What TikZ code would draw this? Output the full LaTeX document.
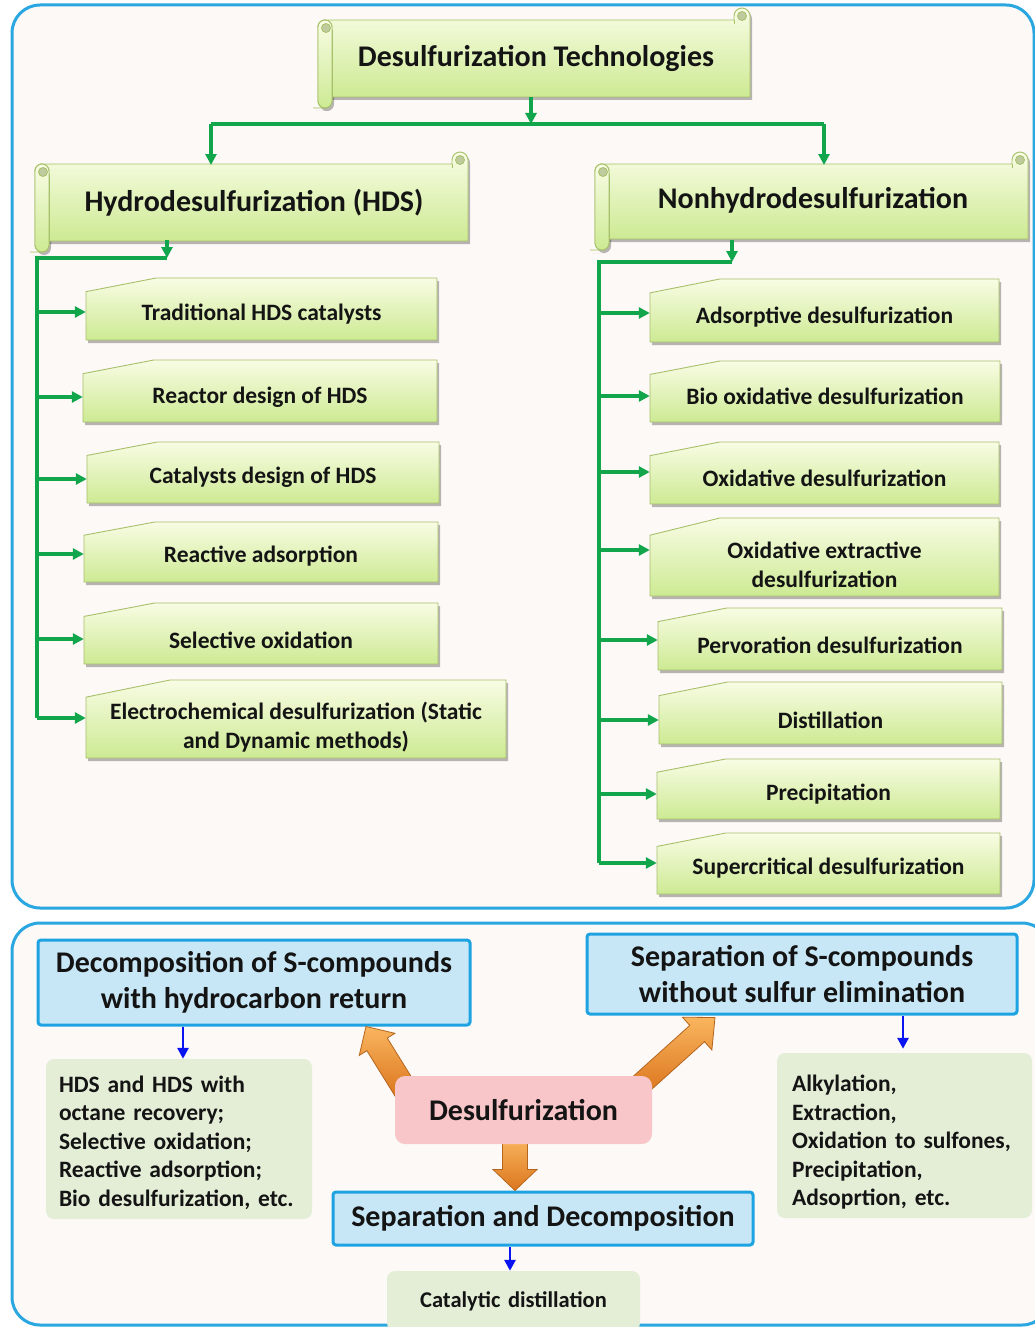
\documentclass[tikz,border=0pt]{standalone}
\usepackage{fontspec}
\setmainfont{Carlito}
\usetikzlibrary{arrows.meta,shadows,calc}

\definecolor{panelblue}{HTML}{2AA7E0}
\definecolor{panelfill}{HTML}{FDF9F7}
\definecolor{linkgreen}{HTML}{12A64C}
\definecolor{scrolltop}{HTML}{F8FCE4}
\definecolor{scrollbot}{HTML}{CDEA93}
\definecolor{scrolledge}{HTML}{A7C06A}
\definecolor{curlfill}{HTML}{BFCB9E}
\definecolor{boxblue}{HTML}{C8E7F6}
\definecolor{boxedge}{HTML}{1EA3E2}
\definecolor{sage}{HTML}{E4EED7}
\definecolor{pinkbox}{HTML}{F8C6C8}
\definecolor{orangetop}{HTML}{F9B55E}
\definecolor{orangebot}{HTML}{DB761E}
\definecolor{orangeedge}{HTML}{B5661E}
\definecolor{textblack}{HTML}{141414}
\definecolor{arrowblue}{HTML}{0A14F0}

\tikzset{
  panel/.style={draw=panelblue, line width=3pt, fill=panelfill, rounded corners=28pt},
  softshadow/.style={drop shadow={shadow xshift=2pt, shadow yshift=-3pt, opacity=0.28, fill=black}},
  scrollpaint/.style={draw=scrolledge, line width=0.9pt, top color=scrolltop, bottom color=scrollbot},
  curlend/.style={draw=scrolledge, line width=0.8pt, fill=curlfill},
  itempaint/.style={draw=scrolledge, line width=0.9pt, top color=scrolltop, bottom color=scrollbot},
  headtext/.style={font=\fontsize{30}{36}\selectfont\bfseries, text=textblack, inner sep=0pt},
  itemtext/.style={font=\fontsize{23.5}{29}\selectfont\bfseries, text=textblack, align=center, inner sep=0pt},
  greenline/.style={draw=linkgreen, line width=3.6pt},
  greenarrow/.style={greenline, -{Triangle[length=11pt,width=11pt]}},
  bluearrow/.style={draw=arrowblue, line width=2.8pt, -{Triangle[length=11pt,width=11pt]}},
  bluebox/.style={draw=boxedge, line width=3pt, fill=boxblue, rounded corners=3pt, align=center,
    font=\fontsize{30}{36}\selectfont\bfseries, text=textblack, inner sep=0pt},
  listbox/.style={fill=sage, rounded corners=8pt, align=left, inner ysep=0pt,
    font=\fontsize{23.5}{28.5}\selectfont\bfseries, text=textblack},
  orangeblock/.style={draw=orangeedge, line width=0.8pt, top color=orangetop, bottom color=orangebot},
}

% horizontal scroll: name, x1, y1, x2, y2, text x, text y, text
\newcommand\scrollbox[8]{%
  \path[scrollpaint, softshadow] (#2+2,#5) [rounded corners=7pt] -- (#2,#5) -- (#2,#3+12) -- (#2+14,#3+12) -- (#2+14,#5) -- cycle;
  \path[scrollpaint, softshadow] (#2+10,#3+12) -- (#4-16,#3+12) -- (#4-16,#3+8)
     arc[start angle=180, end angle=0, radius=8pt] -- (#4,#5-11) -- (#2+10,#5-11) -- cycle;
  \path[curlend] (#4-8,#3+8) circle[radius=4.5pt];
  \draw[scrolledge, line width=0.8pt] (#4-16,#3+12) -- (#4-16,#3+16);
  \path[scrollpaint] (#2,#3+20) [rounded corners=7pt] -- (#2,#3+12) -- (#2+14,#3+12) -- (#2+14,#5-8);
  \path[scrollpaint, rounded corners=7pt] (#2,#3+12) rectangle (#2+14,#5);
  \path[curlend] (#2+8,#3+20) circle[radius=4.5pt];
  \draw[scrolledge, line width=0.8pt] (#2+14,#3+22) -- (#2+14,#5-11);
  \node[headtext] (#1) at (#6,#7) {#8};
}

% box with a snipped top-left corner: name, x1, y1, x2, y2, text y, text
\newcommand\snipbox[7]{%
  \path[itempaint, softshadow] (#2,{#3+0.22*(#5-#3)}) -- ({#2+0.2*(#4-#2)},#3) -- (#4,#3) -- (#4,#5) -- (#2,#5) -- cycle;
  \node[itemtext, minimum width={#4-#2}] (#1) at ({(#2+#4)/2},#6) {#7};
}

% block arrow from tail to tip: tail, tip, shaft half width, head half width, head length
\newcommand\blockarrow[5]{%
  \path[orangeblock] ($(#1)!#3!90:(#2)$) -- ($($(#2)!#5!(#1)$)!#3!90:(#2)$)
    -- ($($(#2)!#5!(#1)$)!#4!90:(#2)$) -- (#2)
    -- ($($(#2)!#5!(#1)$)!#4!-90:(#2)$) -- ($($(#2)!#5!(#1)$)!#3!-90:(#2)$)
    -- ($(#1)!#3!-90:(#2)$) -- cycle;
}

\begin{document}
\begin{tikzpicture}[x=1pt, y=-1pt]
\useasboundingbox (0,0) rectangle (1035,1327);
\clip (0,0) rectangle (1035,1327);
\fill[white] (0,0) rectangle (1035,1327);

% the two panels
\path[panel] (12,5) rectangle (1034,908);
\path[panel] (12,923) rectangle (1050,1325);

% ---------- upper panel: technology tree ----------
\scrollbox{title}{318}{8}{750}{108}{536}{58}{Desulfurization Technologies}
\scrollbox{hds}{35}{152}{468}{252}{254}{203}{Hydrodesulfurization (HDS)}
\scrollbox{nonhds}{595}{152}{1028}{250}{813}{200}{Nonhydrodesulfurization}

\coordinate (busMid) at (531,124);
\coordinate (busL) at (211,124);
\coordinate (busR) at (824,124);
\draw[greenline] (busL) -- (busR);
\draw[greenarrow] (busMid |- 0,97) -- (busMid);
\draw[greenarrow] (busL) -- (busL |- 0,165);
\draw[greenarrow] (busR) -- (busR |- 0,165);

% HDS branch
\snipbox{h1}{86}{278}{437}{340}{314}{Traditional HDS catalysts}
\snipbox{h2}{83}{360}{437}{422}{397}{Reactor design of HDS}
\snipbox{h3}{87}{442}{439}{503}{477}{Catalysts design of HDS}
\snipbox{h4}{84}{522}{438}{582}{556}{Reactive adsorption}
\snipbox{h5}{84}{603}{438}{664}{640}{Selective oxidation}
\snipbox{h6}{86}{680}{506}{758}{727}{Electrochemical desulfurization (Static\\and Dynamic methods)}

\coordinate (hdsBus) at (167,258);
\coordinate (hdsTop) at (37,258);
\coordinate (hdsEnd) at (37,718);
\draw[greenarrow] (hdsBus |- 0,240) -- (hdsBus);
\draw[greenline] (hdsBus) -- (hdsTop) -- (hdsEnd);
\draw[greenarrow] (hdsTop |- 0,312) -- (h1.west |- 0,312);
\draw[greenarrow] (hdsTop |- h2.west) -- (h2.west);
\draw[greenarrow] (hdsTop |- 0,479) -- (h3.west |- 0,479);
\draw[greenarrow] (hdsTop |- 0,554) -- (h4.west |- 0,554);
\draw[greenarrow] (hdsTop |- 0,639) -- (h5.west |- 0,639);
\draw[greenarrow] (hdsEnd) -- (h6.west |- hdsEnd);

% non-HDS branch
\snipbox{n1}{650}{279}{999}{342}{317}{Adsorptive desulfurization}
\snipbox{n2}{650}{361}{1000}{422}{396}{Bio oxidative desulfurization}
\snipbox{n3}{650}{442}{999}{504}{478}{Oxidative desulfurization}
\snipbox{n4}{650}{518}{999}{596}{565}{Oxidative extractive\\desulfurization}
\snipbox{n5}{658}{608}{1002}{670}{645}{Pervoration desulfurization}
\snipbox{n6}{659}{682}{1002}{744}{720}{Distillation}
\snipbox{n7}{657}{759}{1000}{819}{794}{Precipitation}
\snipbox{n8}{657}{833}{1000}{894}{868}{Supercritical desulfurization}

\coordinate (nonBus) at (732,262);
\coordinate (nonTop) at (599,262);
\coordinate (nonEnd) at (599,863);
\draw[greenarrow] (nonBus |- 0,240) -- (nonBus);
\draw[greenline] (nonBus) -- (nonTop) -- (nonEnd);
\draw[greenarrow] (nonTop |- 0,313) -- (n1.west |- 0,313);
\draw[greenarrow] (nonTop |- n2.west) -- (n2.west);
\draw[greenarrow] (nonTop |- 0,472) -- (n3.west |- 0,472);
\draw[greenarrow] (nonTop |- 0,550) -- (n4.west |- 0,550);
\draw[greenarrow] (nonTop |- 0,640) -- (n5.west |- 0,640);
\draw[greenarrow] (nonTop |- n6.west) -- (n6.west);
\draw[greenarrow] (nonTop |- n7.west) -- (n7.west);
\draw[greenarrow] (nonEnd) -- (n8.west |- nonEnd);

% ---------- lower panel: classification ----------
\node[bluebox, minimum width=432, minimum height=85] (decomp) at (254,982.5)
  {Decomposition of S-compounds\\with hydrocarbon return};
\node[bluebox, minimum width=430, minimum height=80] (separ) at (802,974)
  {Separation of S-compounds\\without sulfur elimination};
\node[bluebox, minimum width=420, minimum height=53] (sepdec) at (543,1218.5)
  {Separation and Decomposition};

\node[listbox, text width=240, inner xsep=13, minimum height=160] (leftlist) at (179,1139)
  {\rule{0pt}{24pt}HDS and HDS with\\octane recovery;\\Selective oxidation;\\Reactive adsorption;\\Bio desulfurization, etc.};
\node[listbox, text width=225, inner xsep=15, minimum height=165] (rightlist) at (904.5,1135.5)
  {\rule{0pt}{30pt}Alkylation,\\Extraction,\\Oxidation to sulfones,\\Precipitation,\\Adsoprtion, etc.};
\node[listbox, align=center, text width=253, inner xsep=0, minimum height=60,
  font=\fontsize{22.5}{27}\selectfont\bfseries] (catal) at (513.5,1301) {Catalytic distillation};

\draw[bluearrow] ([xshift=-71pt]decomp.south) -- ([xshift=-71pt]decomp.south |- leftlist.north);
\draw[bluearrow, shorten >=4pt] ([xshift=101pt]separ.south) -- ([xshift=101pt]separ.south |- rightlist.north);
\draw[bluearrow] ([xshift=-33pt]sepdec.south) -- ([xshift=-33pt]sepdec.south |- catal.north);

% orange block arrows leaving the central box
\coordinate (tailL) at (406,1091);
\coordinate (tailR) at (640,1085);
\coordinate (tailD) at (515,1138);
\coordinate (tipL) at ([xshift=112pt]decomp.south);
\coordinate (tipR) at ([xshift=-87pt,yshift=-2pt]separ.south);
\coordinate (tipD) at ([xshift=-28pt]sepdec.north);
\blockarrow{tailL}{tipL}{12pt}{21pt}{21pt}
\blockarrow{tailR}{tipR}{11pt}{22pt}{24pt}
\blockarrow{tailD}{tipD}{12.5pt}{22pt}{21pt}

\node[fill=pinkbox, rounded corners=10pt, minimum width=257, minimum height=68, inner sep=0pt,
  font=\fontsize{30}{36}\selectfont\bfseries, text=textblack] (desulf) at (523.5,1110) {Desulfurization};
\end{tikzpicture}
\end{document}
